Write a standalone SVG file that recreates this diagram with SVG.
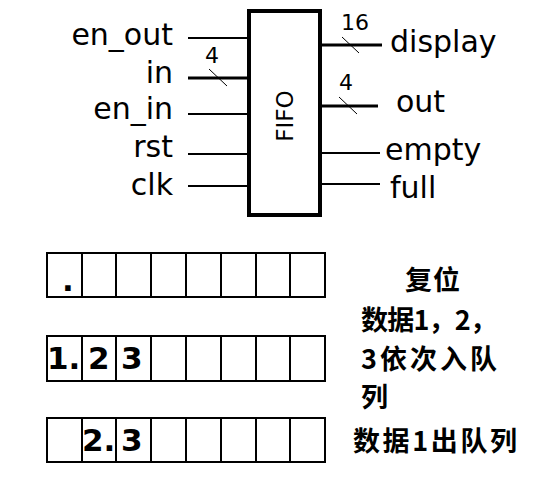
<svg xmlns="http://www.w3.org/2000/svg" width="549" height="486" viewBox="0 0 549 486">
<style>
.lbl{font-family:"DejaVu Sans",sans-serif;font-size:30px;fill:#000}
.num{font-family:"DejaVu Sans",sans-serif;font-size:22px;fill:#000}
.w{stroke:#000;stroke-width:2;fill:none}
.bus{stroke:#000;stroke-width:3;fill:none}
.sl{stroke:#000;stroke-width:1;fill:none}
.cell{stroke:#000;stroke-width:2;fill:#fff}
.dig{font-family:"DejaVu Sans",sans-serif;font-size:31px;font-weight:bold;fill:#000}
.cn{font-family:"Noto Sans CJK SC",sans-serif;font-size:27px;font-weight:bold;fill:#000}
</style>
<rect width="549" height="486" fill="#fff"/>
<g id="fifo">
<rect x="249" y="11" width="71" height="204" fill="#fff" stroke="#000" stroke-width="4"/>
<text x="0" y="0" transform="translate(293,116) rotate(-90)" text-anchor="middle" font-family="DejaVu Sans,sans-serif" font-size="23">FIFO</text>
</g>
<g id="connectors">
<line class="w" x1="188" y1="38" x2="249" y2="38"/>
<line class="bus" x1="188" y1="78" x2="249" y2="78"/>
<line class="sl" x1="209" y1="69" x2="227" y2="86"/>
<line class="w" x1="188" y1="114" x2="249" y2="114"/>
<line class="w" x1="188" y1="154" x2="249" y2="154"/>
<line class="w" x1="188" y1="186" x2="249" y2="186"/>
<line class="bus" x1="320" y1="45" x2="382" y2="45"/>
<line class="sl" x1="342" y1="37" x2="359" y2="53"/>
<line class="bus" x1="320" y1="106" x2="378" y2="106"/>
<line class="sl" x1="339" y1="97" x2="357" y2="114"/>
<line class="w" x1="320" y1="153" x2="380" y2="153"/>
<line class="w" x1="320" y1="184" x2="380" y2="184"/>
</g>
<g id="labels">
<text class="lbl" x="173" y="45" text-anchor="end">en_out</text>
<text class="lbl" x="173" y="83" text-anchor="end">in</text>
<text class="lbl" x="173" y="119" text-anchor="end">en_in</text>
<text class="lbl" x="173" y="157" text-anchor="end">rst</text>
<text class="lbl" x="173" y="195" text-anchor="end">clk</text>
<text class="num" x="205" y="63">4</text>
<text class="num" x="341" y="30">16</text>
<text class="num" x="339" y="90">4</text>
<text class="lbl" x="390" y="52">display</text>
<text class="lbl" x="396" y="112">out</text>
<text class="lbl" x="385" y="160">empty</text>
<text class="lbl" x="390" y="198">full</text>
</g>
<g id="row1">
<rect class="cell" x="47" y="253" width="278" height="44"/>
<path class="w" d="M82 253V297M116 253V297M151 253V297M186 253V297M221 253V297M256 253V297M290 253V297"/>
<text class="dig" x="62" y="291">.</text>
</g>
<g id="row2">
<rect class="cell" x="47" y="336" width="278" height="45"/>
<path class="w" d="M82 336V381M116 336V381M151 336V381M186 336V381M221 336V381M256 336V381M290 336V381"/>
<text class="dig" x="47" y="369">1.</text>
<text class="dig" x="88" y="369">2</text>
<text class="dig" x="121" y="369">3</text>
</g>
<g id="row3">
<rect class="cell" x="47" y="418" width="278" height="44"/>
<path class="w" d="M82 418V462M116 418V462M151 418V462M186 418V462M221 418V462M256 418V462M290 418V462"/>
<text class="dig" x="82" y="451">2.</text>
<text class="dig" x="121" y="451">3</text>
</g>
<g id="notes">
<text class="cn" x="405" y="290" textLength="55" lengthAdjust="spacing">复位</text>
<text class="cn" x="361" y="330" textLength="136" lengthAdjust="spacing">数据1，2，</text>
<text class="cn" x="361" y="369" textLength="136" lengthAdjust="spacing">3依次入队</text>
<text class="cn" x="361" y="407">列</text>
<text class="cn" x="353" y="451" textLength="164" lengthAdjust="spacing">数据1出队列</text>
</g>
</svg>
